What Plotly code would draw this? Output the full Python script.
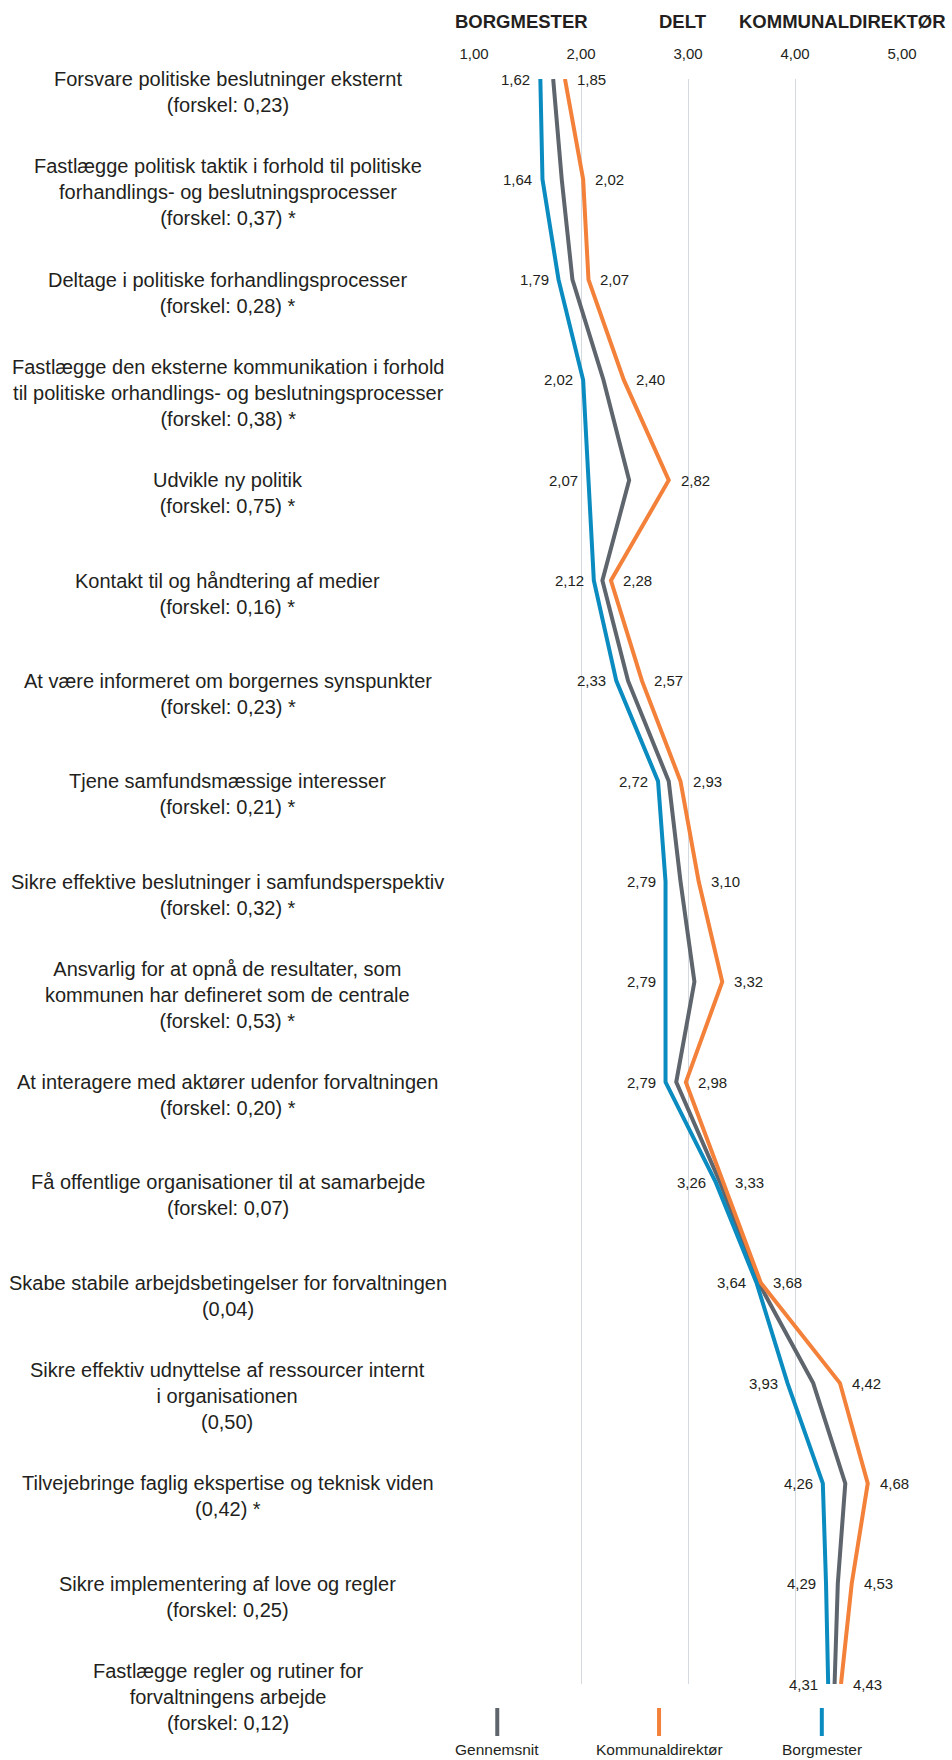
import plotly.graph_objects as go

# ---------------- data ----------------
categories = [
    "Forsvare politiske beslutninger eksternt<br>(forskel: 0,23)",
    "Fastlægge politisk taktik i forhold til politiske<br>forhandlings- og beslutningsprocesser<br>(forskel: 0,37) *",
    "Deltage i politiske forhandlingsprocesser<br>(forskel: 0,28) *",
    "Fastlægge den eksterne kommunikation i forhold<br>til politiske orhandlings- og beslutningsprocesser<br>(forskel: 0,38) *",
    "Udvikle ny politik<br>(forskel: 0,75) *",
    "Kontakt til og håndtering af medier<br>(forskel: 0,16) *",
    "At være informeret om borgernes synspunkter<br>(forskel: 0,23) *",
    "Tjene samfundsmæssige interesser<br>(forskel: 0,21) *",
    "Sikre effektive beslutninger i samfundsperspektiv<br>(forskel: 0,32) *",
    "Ansvarlig for at opnå de resultater, som<br>kommunen har defineret som de centrale<br>(forskel: 0,53) *",
    "At interagere med aktører udenfor forvaltningen<br>(forskel: 0,20) *",
    "Få offentlige organisationer til at samarbejde<br>(forskel: 0,07)",
    "Skabe stabile arbejdsbetingelser for forvaltningen<br>(0,04)",
    "Sikre effektiv udnyttelse af ressourcer internt<br>i organisationen<br>(0,50)",
    "Tilvejebringe faglig ekspertise og teknisk viden<br>(0,42) *",
    "Sikre implementering af love og regler<br>(forskel: 0,25)",
    "Fastlægge regler og rutiner for<br>forvaltningens arbejde<br>(forskel: 0,12)",
]

borgmester = [1.62, 1.64, 1.79, 2.02, 2.07, 2.12, 2.33, 2.72, 2.79, 2.79, 2.79,
              3.26, 3.64, 3.93, 4.26, 4.29, 4.31]
kommunaldirektoer = [1.85, 2.02, 2.07, 2.40, 2.82, 2.28, 2.57, 2.93, 3.10, 3.32, 2.98,
                     3.33, 3.68, 4.42, 4.68, 4.53, 4.43]
gennemsnit = [1.74, 1.82, 1.92, 2.21, 2.45, 2.20, 2.44, 2.82, 2.93, 3.06, 2.89,
              3.30, 3.66, 4.17, 4.47, 4.40, 4.37]

tick_vals = [1, 2, 3, 4, 5]
tick_text = ["1,00", "2,00", "3,00", "4,00", "5,00"]

headers = ["BORGMESTER", "DELT", "KOMMUNALDIREKTØR"]
legend_names = ["Gennemsnit", "Kommunaldirektør", "Borgmester"]

# ---------------- style ----------------
W, H = 952, 1760
ML, MR = 473.7, W - 902.3
MT, MB = 78.6, H - 1684.0
PW, PH = W - ML - MR, H - MT - MB

C_GRAY = "#5e656c"
C_ORANGE = "#f3813a"
C_BLUE = "#0b8cc1"
TXT = "#231f20"
FONT = "Liberation Sans, Arial, Helvetica, sans-serif"


def px_x(px):
    return (px - ML) / PW


def px_y(py):
    return (H - MB - py) / PH


def fmt(v):
    return f"{v:.2f}".replace(".", ",")


fig = go.Figure()
for vals, col, name in [(gennemsnit, C_GRAY, legend_names[0]),
                        (kommunaldirektoer, C_ORANGE, legend_names[1]),
                        (borgmester, C_BLUE, legend_names[2])]:
    fig.add_trace(go.Scatter(x=vals, y=categories, mode="lines", name=name,
                             line=dict(color=col, width=4), showlegend=False,
                             hoverinfo="skip"))

ann = []
# category labels
for c in categories:
    ann.append(dict(x=px_x(227), xref="paper", y=c, yref="y", text=c,
                    showarrow=False, xanchor="center", yanchor="middle",
                    align="center", yshift=-13,
                    font=dict(family=FONT, size=20, color=TXT)))
# value labels
for c, b, k in zip(categories, borgmester, kommunaldirektoer):
    ann.append(dict(x=b, y=c, xref="x", yref="y", text=fmt(b), showarrow=False,
                    xanchor="right", yanchor="middle", xshift=-8,
                    font=dict(family=FONT, size=15, color=TXT)))
    ann.append(dict(x=k, y=c, xref="x", yref="y", text=fmt(k), showarrow=False,
                    xanchor="left", yanchor="middle", xshift=10,
                    font=dict(family=FONT, size=15, color=TXT)))
# headers
for h, cx in zip(headers, [521.5, 682.5, 843]):
    ann.append(dict(x=px_x(cx), y=px_y(21), xref="paper", yref="paper", text=f"<b>{h}</b>",
                    showarrow=False, xanchor="center", yanchor="middle",
                    font=dict(family=FONT, size=18.5, color=TXT)))

shapes = []
# legend
for name, col, cx in zip(legend_names, [C_GRAY, C_ORANGE, C_BLUE], [497, 659, 822]):
    shapes.append(dict(type="line", xref="paper", yref="paper",
                       x0=px_x(cx), x1=px_x(cx), y0=px_y(1708), y1=px_y(1736),
                       line=dict(color=col, width=4)))
    ann.append(dict(x=px_x(cx), y=px_y(1750), xref="paper", yref="paper", text=name,
                    showarrow=False, xanchor="center", yanchor="middle",
                    font=dict(family=FONT, size=15.5, color=TXT)))

fig.update_layout(
    width=W, height=H, autosize=False,
    margin=dict(l=ML, r=MR, t=MT, b=MB, pad=0),
    plot_bgcolor="white", paper_bgcolor="white",
    annotations=ann, shapes=shapes,
    xaxis=dict(range=[1, 5], side="top", tickvals=tick_vals, ticktext=tick_text,
               showgrid=True, gridcolor="#d4dae0", gridwidth=1.4, zeroline=False,
               showline=False, ticks="", ticklabelstandoff=16,
               tickfont=dict(family=FONT, size=15, color=TXT), fixedrange=True),
    yaxis=dict(type="category", range=[len(categories) - 1, 0], showgrid=False,
               zeroline=False, showline=False, showticklabels=False, ticks="",
               fixedrange=True),
    showlegend=False,
)

fig.write_html("out.html", config={"displayModeBar": False},
               post_script="document.body.style.margin='0';")
